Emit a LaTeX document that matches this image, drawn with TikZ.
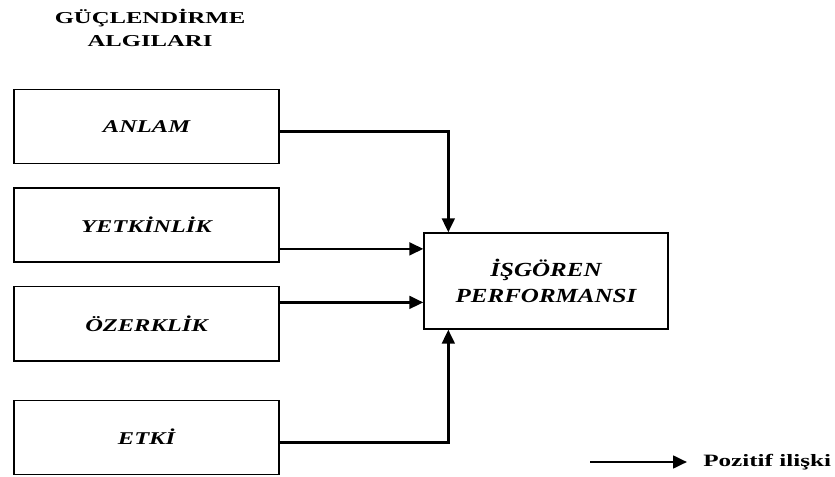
\documentclass[tikz,border=0pt]{standalone}
\usepackage{fontspec}
\setmainfont{Liberation Serif}
\usetikzlibrary{arrows.meta,positioning,calc}
\newcommand{\wide}[2][1.36]{\scalebox{#1}[1]{#2}}
\tikzset{
  factor/.style={
    draw=black,
    line width=1pt,
    minimum width=198.75pt,
    minimum height=55.5pt,
    inner sep=0pt,
    align=center,
    font=\fontsize{13.5}{16}\selectfont\bfseries\itshape
  },
  outcome/.style={
    draw=black,
    line width=1pt,
    minimum width=183pt,
    minimum height=72pt,
    inner sep=0pt,
    align=center,
    font=\fontsize{15}{20}\selectfont\bfseries\itshape
  },
  heading/.style={align=center, inner sep=0pt, font=\fontsize{12.5}{17}\selectfont\bfseries},
  line/.style={-{Triangle[length=10.5pt,width=9.5pt]}, line width=2pt}
}

\begin{document}
\begin{tikzpicture}[x=0.75pt, y=-0.75pt, node distance=17.5pt]
        \useasboundingbox (0,0) rectangle (835,477);
        \node[heading] (title) at (150,28) {\wide[1.48]{GÜÇLENDİRME}\\\wide[1.48]{ALGILARI}};
        \node[factor] (anlam) at (146.5,126.5) {\wide{ANLAM}};
        \node[factor, below=of anlam] (yetkinlik) {\wide{YETKİNLİK}};
        \node[factor, below=of yetkinlik] (ozerklik) {\wide{ÖZERKLİK}};
        \node[factor, below=28.5pt of ozerklik] (etki) {\wide{ETKİ}};
        \node[outcome] (isgoren) at (546,281) {\wide[1.25]{İŞGÖREN}\\\wide[1.25]{PERFORMANSI}};
        % entry points on the outcome box
        \coordinate (top) at ($(isgoren.north west)+(25,0)$);
        \coordinate (bottom) at ($(isgoren.south west)+(25,0)$);
        \coordinate (in1) at ($(isgoren.north west)!0.17!(isgoren.south west)$);
        \coordinate (in2) at ($(isgoren.north west)!0.72!(isgoren.south west)$);
        \draw[line] ([yshift=-4pt]anlam.east) -| (top);
        \draw[line] (in1 -| yetkinlik.east) -- (in1);
        \draw[line] (in2 -| ozerklik.east) -- (in2);
        \draw[line] ([yshift=-3.75pt]etki.east) -| (bottom);
        % legend
        \node[anchor=west, inner sep=0pt, font=\fontsize{13}{15}\selectfont\bfseries] (pozitif) at (703,462) {\wide[1.45]{Pozitif ilişki}};
        \coordinate (legstart) at (590,462);
        \draw[line, shorten >=12pt] (legstart) -- (legstart -| pozitif.west);
      \end{tikzpicture}
\end{document}
